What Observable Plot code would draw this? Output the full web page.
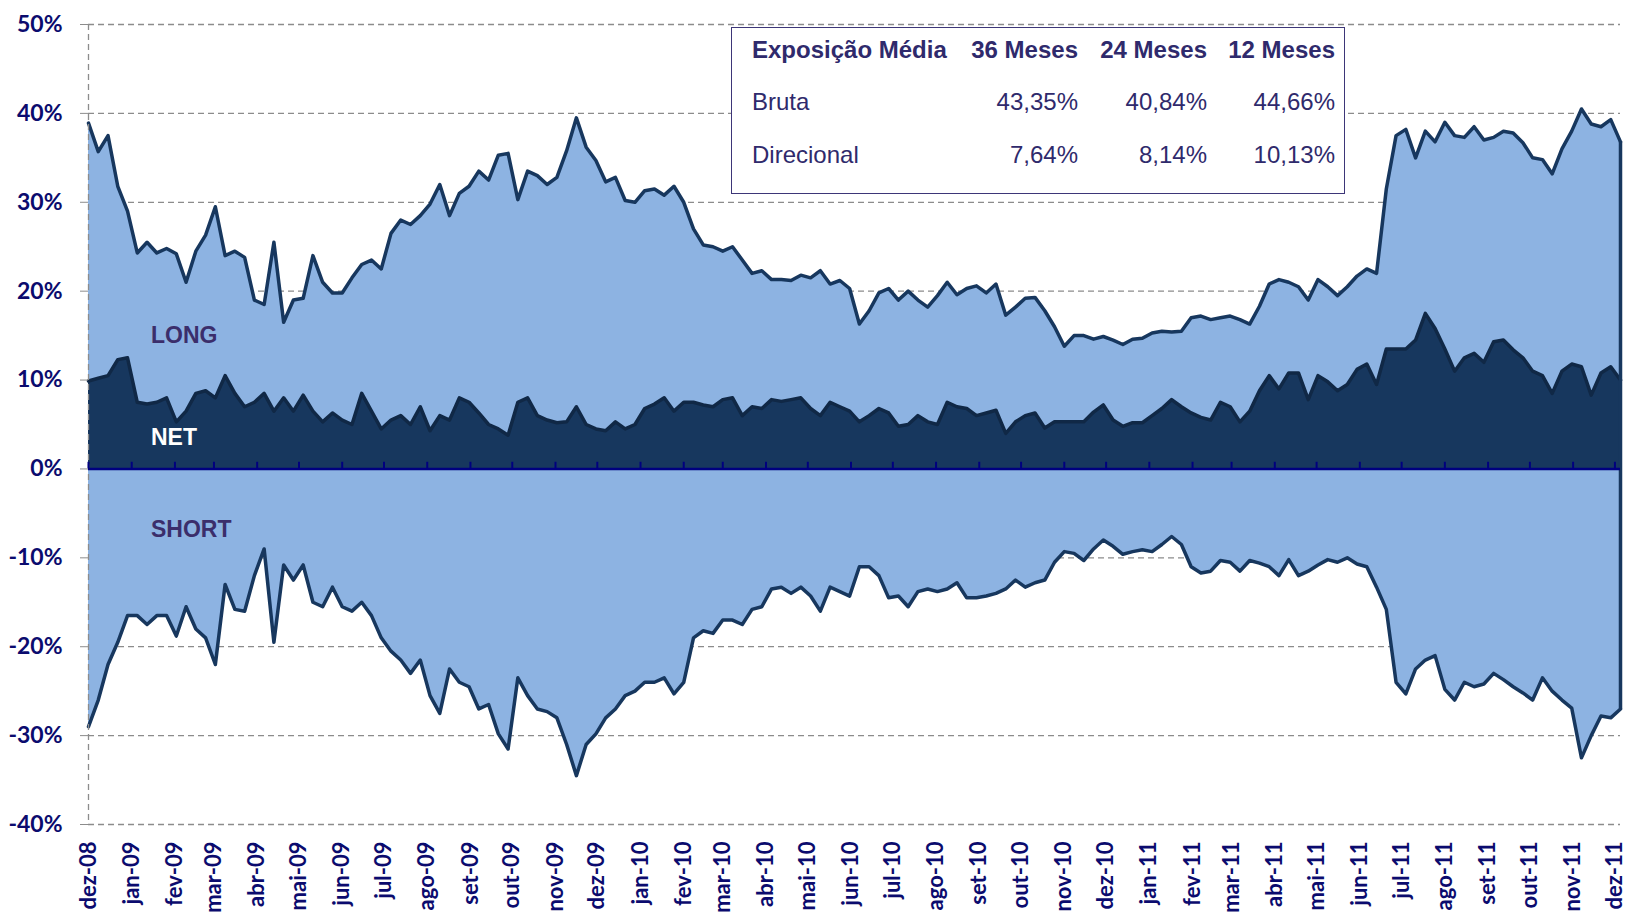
<!DOCTYPE html>
<html>
<head>
<meta charset="utf-8">
<script src="https://cdn.jsdelivr.net/npm/d3@7"></script>
<script src="https://cdn.jsdelivr.net/npm/@observablehq/plot@0.6"></script>
<style>
  html, body { margin: 0; padding: 0; background: #fff; overflow: hidden; }
  #wrap { position: relative; width: 1626px; height: 916px; }
  #chart { position: absolute; left: 0; top: 0; }
  .lbl { position: absolute; font-family: "Liberation Sans", Arial, sans-serif; font-weight: bold; font-size: 23px; line-height: 1; white-space: nowrap; }
  #tbl { position: absolute; left: 731px; top: 27px; width: 612px; height: 165px; border: 1.5px solid #3d3678; background: #fff; }
  .tc { position: absolute; font-family: "Liberation Sans", Arial, sans-serif; font-size: 24px; color: #2f2a6c; line-height: 1; white-space: nowrap; transform: translateY(-50%); }
  .tc.b { font-weight: bold; }
</style>
</head>
<body>
<div id="wrap">
  <div id="chart"></div>
  <div class="lbl" style="left:151px; top:324px; color:#3b2e6b;">LONG</div>
  <div class="lbl" style="left:151px; top:426px; color:#ffffff;">NET</div>
  <div class="lbl" style="left:151px; top:518px; color:#3b2e6b;">SHORT</div>
  <div id="tbl"></div>
</div>
<script>
// ---- data (weekly observations starting 2008-12-01) ----
const monthNames = ["jan","fev","mar","abr","mai","jun","jul","ago","set","out","nov","dez"];
const startDate = "2008-12-01";
const stepDays = 7;

const longVals = [
 38.9,35.7,37.5,31.8,29.0,24.3,25.5,24.3,24.8,24.2,21.0,24.5,26.3,29.5,24.0,24.5,23.8,19.0,18.5,25.5,
 16.5,19.0,19.2,24.0,21.0,19.8,19.8,21.5,23.0,23.5,22.5,26.5,28.0,27.5,28.5,29.8,32.0,28.5,31.0,31.8,
 33.5,32.5,35.3,35.5,30.3,33.5,33.0,32.0,32.8,35.8,39.5,36.2,34.7,32.3,32.8,30.2,30.0,31.3,31.5,30.8,
 31.8,30.0,27.0,25.2,25.0,24.5,25.0,23.5,22.0,22.3,21.3,21.3,21.2,21.8,21.5,22.3,20.8,21.2,20.3,16.3,
 17.8,19.8,20.3,19.0,20.0,19.0,18.2,19.5,21.0,19.6,20.3,20.6,19.8,20.8,17.3,18.2,19.2,19.3,17.8,16.0,
 13.8,15.0,15.0,14.6,14.9,14.5,14.0,14.6,14.7,15.3,15.5,15.4,15.5,17.0,17.2,16.8,17.0,17.2,16.8,16.3,
 18.3,20.8,21.3,21.0,20.5,19.0,21.3,20.5,19.5,20.5,21.7,22.5,22.0,31.5,37.5,38.2,35.0,38.0,36.8,39.0,
 37.5,37.3,38.5,37.0,37.3,38.0,37.8,36.7,35.0,34.8,33.2,36.0,38.0,40.5,38.8,38.5,39.3,36.8
];
const shortVals = [
 -29.0,-26.0,-22.0,-19.5,-16.5,-16.5,-17.5,-16.5,-16.5,-18.8,-15.5,-18.0,-19.0,-22.0,-13.0,-15.8,-16.0,-12.0,-9.0,-19.5,
 -10.8,-12.5,-10.8,-15.0,-15.5,-13.3,-15.5,-16.0,-15.0,-16.5,-19.0,-20.5,-21.5,-23.0,-21.5,-25.5,-27.5,-22.5,-24.0,-24.5,
 -27.0,-26.5,-29.8,-31.5,-23.5,-25.5,-27.0,-27.3,-28.0,-31.0,-34.5,-31.0,-29.8,-28.0,-27.0,-25.5,-25.0,-24.0,-24.0,-23.5,
 -25.3,-24.0,-19.0,-18.2,-18.5,-17.0,-17.0,-17.5,-15.8,-15.5,-13.5,-13.3,-14.0,-13.3,-14.3,-16.0,-13.3,-13.8,-14.3,-11.0,
 -11.0,-12.0,-14.5,-14.3,-15.5,-13.8,-13.5,-13.8,-13.5,-12.8,-14.5,-14.5,-14.3,-14.0,-13.5,-12.5,-13.3,-12.8,-12.5,-10.5,
 -9.3,-9.5,-10.3,-9.0,-8.0,-8.7,-9.6,-9.3,-9.1,-9.3,-8.5,-7.6,-8.5,-11.0,-11.7,-11.5,-10.3,-10.5,-11.5,-10.3,
 -10.6,-11.0,-12.0,-10.2,-12.0,-11.5,-10.8,-10.2,-10.5,-10.0,-10.7,-11.0,-13.3,-15.8,-24.0,-25.3,-22.5,-21.5,-21.0,-24.8,
 -26.0,-24.0,-24.5,-24.2,-23.0,-23.7,-24.5,-25.2,-26.0,-23.5,-25.0,-26.0,-26.9,-32.5,-30.0,-27.8,-28.0,-27.0
];
const netVals = [
 9.9,10.2,10.5,12.3,12.5,7.5,7.3,7.5,8.0,5.3,6.5,8.5,8.8,8.0,10.5,8.5,7.0,7.5,8.5,6.5,
 8.0,6.5,8.3,6.5,5.3,6.3,5.5,5.0,8.5,6.5,4.5,5.5,6.0,5.0,7.0,4.3,6.0,5.5,8.0,7.5,
 6.3,5.0,4.5,3.8,7.5,8.0,6.0,5.5,5.2,5.3,7.0,5.0,4.5,4.3,5.3,4.5,5.0,6.8,7.3,8.0,
 6.5,7.5,7.5,7.2,7.0,7.8,8.0,6.0,7.0,6.8,7.8,7.6,7.8,8.0,6.8,6.0,7.5,7.0,6.5,5.3,
 6.0,6.8,6.3,4.8,5.0,6.0,5.3,5.0,7.5,7.0,6.8,6.0,6.3,6.6,4.0,5.3,6.0,6.3,4.6,5.3,
 5.3,5.3,5.3,6.4,7.2,5.5,4.8,5.2,5.2,6.0,6.8,7.8,7.0,6.3,5.8,5.5,7.5,7.0,5.3,6.5,
 8.8,10.5,9.0,10.8,10.8,7.8,10.5,9.8,8.8,9.5,11.2,11.8,9.5,13.5,13.5,13.5,14.5,17.5,15.8,13.5,
 11.0,12.5,13.0,12.0,14.3,14.5,13.4,12.5,11.0,10.5,8.5,11.0,11.8,11.5,8.3,10.8,11.5,10.0
];
const yTicks = [-40,-30,-20,-10,0,10,20,30,40,50];
const tableHeader = ["Exposição Média","36 Meses","24 Meses","12 Meses"];
const rowLabels = ["Bruta","Direcional"];
const brutaVals = ["43,35%","40,84%","44,66%"];
const direcionalVals = ["7,64%","8,14%","10,13%"];

// ---- build ----
const start = new Date(startDate + "T00:00:00Z");
const data = longVals.map((v, i) => ({
  date: d3.utcDay.offset(start, stepDays * i),
  long: v, short: shortVals[i], net: netVals[i]
}));
const last = data[data.length - 1];
const months = d3.utcMonth.range(start, d3.utcDay.offset(last.date, 1));

const light = "#8db3e2", dark = "#17375e", lineC = "#17375e", navy = "#0b0b6e", grid = "#8c8c8c";
const fmtMonth = d => monthNames[d.getUTCMonth()] + "-" + String(d.getUTCFullYear()).slice(2);

const chart = Plot.plot({
  width: 1626, height: 916,
  marginLeft: 88, marginRight: 6, marginTop: 24, marginBottom: 92,
  style: {background: "transparent", overflow: "visible"},
  x: {type: "utc", domain: [start, last.date]},
  y: {domain: [-40, 50]},
  marks: [
    Plot.ruleY(yTicks, {stroke: grid, strokeDasharray: "6,4", strokeWidth: 1.3}),
    Plot.areaY(data, {x: "date", y1: 0, y2: "long", fill: light}),
    Plot.areaY(data, {x: "date", y1: 0, y2: "short", fill: light}),
    Plot.areaY(data, {x: "date", y1: 0, y2: "net", fill: dark}),
    Plot.line(data, {x: "date", y: "long", stroke: lineC, strokeWidth: 3.5, strokeLinejoin: "round"}),
    Plot.line(data, {x: "date", y: "short", stroke: lineC, strokeWidth: 3.5, strokeLinejoin: "round"}),
    Plot.line(data, {x: "date", y: "net", stroke: "#102846", strokeWidth: 3.5, strokeLinejoin: "round"}),
    Plot.ruleX([last], {x: "date", y1: "short", y2: "long", stroke: lineC, strokeWidth: 3.5}),
    Plot.ruleX([start], {stroke: grid, strokeDasharray: "6,4", strokeWidth: 1.3}),
    Plot.ruleY([0], {stroke: "#00007f", strokeWidth: 2.5}),
    Plot.ruleX(months, {x: d => d, y1: 0, y2: 0.75, stroke: "#00007f", strokeWidth: 2}),
    Plot.axisY(yTicks, {anchor: "left", label: null, tickSize: 8, tickPadding: 18,
      tickFormat: d => d + "%", stroke: grid, fill: navy,
      fontSize: 23, fontWeight: "bold", fontFamily: "Lato, sans-serif"}),
    Plot.axisX(months, {anchor: "bottom", label: null, tickSize: 0, tickPadding: 17, tickRotate: -90,
      tickFormat: fmtMonth, fill: navy, fontSize: 22, fontWeight: "bold", fontFamily: "Lato, sans-serif"})
  ]
});
document.getElementById("chart").appendChild(chart);

// ---- table box ----
const tbl = document.getElementById("tbl");
const colRight = [1078, 1207, 1335];
const rowY = [49, 101, 154];
const boxLeft = 731, boxTop = 27;
function addText(txt, x, y, bold, alignRight) {
  const s = document.createElement("div");
  s.className = "tc" + (bold ? " b" : "");
  s.textContent = txt;
  if (alignRight) s.style.right = (boxLeft + 613 - x) + "px";
  else s.style.left = (x - boxLeft) + "px";
  s.style.top = (y - boxTop) + "px";
  tbl.appendChild(s);
}
addText(tableHeader[0], 751, rowY[0], true, false);
tableHeader.slice(1).forEach((h, i) => addText(h, colRight[i], rowY[0], true, true));
addText(rowLabels[0], 751, rowY[1], false, false);
brutaVals.forEach((v, i) => addText(v, colRight[i], rowY[1], false, true));
addText(rowLabels[1], 751, rowY[2], false, false);
direcionalVals.forEach((v, i) => addText(v, colRight[i], rowY[2], false, true));
</script>
</body>
</html>
